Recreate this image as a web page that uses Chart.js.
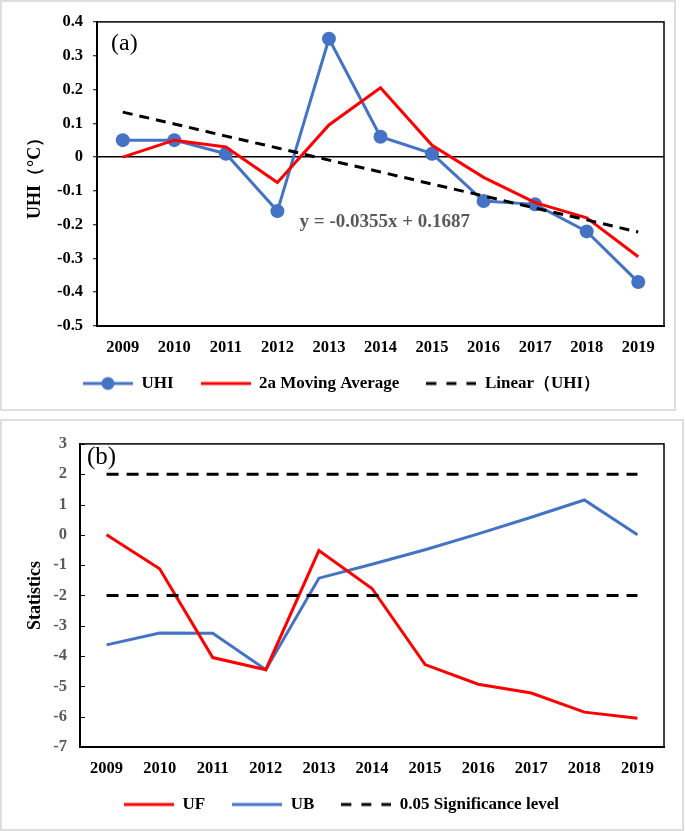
<!DOCTYPE html>
<html>
<head>
<meta charset="utf-8">
<script src="https://cdn.jsdelivr.net/npm/chart.js@4.4.1/dist/chart.umd.min.js"></script>
<style>
  html, body { margin: 0; padding: 0; background: #fff; }
  .panel { position: absolute; left: 0; box-sizing: border-box; border: 2px solid #dedede; background: #fff; }
  #panelA { top: 0; width: 676px; height: 411px; }
  #panelB { top: 419px; width: 684px; height: 412px; }
  canvas { display: block; }
</style>
</head>
<body>
<div class="panel" id="panelA"><canvas id="chartA" width="672" height="407"></canvas></div>
<div class="panel" id="panelB"><canvas id="chartB" width="680" height="408"></canvas></div>
<script>
(function () {
  'use strict';

  // ---------- Data ----------
  const years = ['2009', '2010', '2011', '2012', '2013', '2014', '2015', '2016', '2017', '2018', '2019'];

  // panel (a)
  const uhi = [0.05, 0.05, 0.01, -0.16, 0.35, 0.06, 0.01, -0.13, -0.14, -0.22, -0.37];
  const movingAvg = [0, 0.05, 0.03, -0.075, 0.095, 0.205, 0.035, -0.06, -0.135, -0.18, -0.295];
  const linearUhi = [0.133, 0.098, 0.062, 0.027, -0.009, -0.044, -0.080, -0.115, -0.151, -0.186, -0.222];
  const trendLabel = 'y = -0.0355x + 0.1687';

  // panel (b)
  const uf = [0, -1.12, -4.05, -4.45, -0.52, -1.77, -4.28, -4.93, -5.22, -5.85, -6.05];
  const ub = [-3.63, -3.24, -3.25, -4.45, -1.43, -0.97, -0.49, 0.03, 0.58, 1.15, 0];
  const sigUpper = [2, 2, 2, 2, 2, 2, 2, 2, 2, 2, 2];
  const sigLower = [-2, -2, -2, -2, -2, -2, -2, -2, -2, -2, -2];

  // ---------- Styles ----------
  const BLUE = '#4472C4';
  const RED = '#FF0000';
  const GREY = '#595959';
  const SERIF = "'Liberation Serif', 'Times New Roman', serif";
  const GAP = '\u2002\u2002'; // extra room between legend entries

  Chart.defaults.font.family = SERIF;
  Chart.defaults.color = '#000';
  Chart.defaults.animation = false;

  function lineIcon(color, dash, marker) {
    const c = document.createElement('canvas');
    c.width = 50;
    c.height = 16;
    const g = c.getContext('2d');
    g.strokeStyle = color;
    g.lineWidth = 3;
    if (dash) g.setLineDash(dash);
    g.beginPath();
    g.moveTo(0, 8);
    g.lineTo(50, 8);
    g.stroke();
    if (marker) {
      g.fillStyle = color;
      g.beginPath();
      g.arc(25, 8, 6.5, 0, Math.PI * 2);
      g.fill();
    }
    return c;
  }

  // frame round the plot area
  const boxPlugin = {
    id: 'box',
    afterDraw(chart) {
      const a = chart.chartArea;
      const ctx = chart.ctx;
      ctx.save();
      ctx.strokeStyle = '#000';
      ctx.lineWidth = 1.5;
      ctx.strokeRect(a.left, a.top, a.right - a.left, a.bottom - a.top);
      ctx.restore();
    }
  };

  // text labels drawn on top
  const notesPlugin = {
    id: 'notes',
    afterDraw(chart, args, opts) {
      const ctx = chart.ctx;
      const a = chart.chartArea;
      ctx.save();
      ctx.textBaseline = 'middle';
      ctx.textAlign = 'left';
      for (const n of opts.items || []) {
        ctx.font = n.font;
        ctx.fillStyle = n.color || '#000';
        let x, y;
        if (n.panel) {
          x = a.left + n.dx;
          y = a.top + n.dy;
        } else {
          x = chart.scales.x.getPixelForValue(n.xIndex);
          y = chart.scales.y.getPixelForValue(n.yValue);
        }
        ctx.fillText(n.text, x, y);
      }
      ctx.restore();
    }
  };

  // short tick marks pointing into the plot (panel b)
  const innerTicksPlugin = {
    id: 'innerTicks',
    afterDraw(chart, args, opts) {
      if (!opts.enabled) return;
      const ys = chart.scales.y;
      const ctx = chart.ctx;
      ctx.save();
      ctx.strokeStyle = '#000';
      ctx.lineWidth = 1;
      for (const t of ys.ticks) {
        const p = Math.round(ys.getPixelForValue(t.value)) + 0.5;
        ctx.beginPath();
        ctx.moveTo(ys.right, p);
        ctx.lineTo(ys.right + 5, p);
        ctx.stroke();
      }
      ctx.restore();
    }
  };

  const tickFont = { size: 16.5, weight: 'bold', family: SERIF };
  const legendFont = { size: 17, weight: 'bold', family: SERIF };

  // ---------- Chart (a) ----------
  const iconUhi = lineIcon(BLUE, null, true);
  const iconRed = lineIcon(RED, null, false);
  const iconDash = lineIcon('#000', [10, 10], false);
  const iconBlue = lineIcon(BLUE, null, false);

  new Chart(document.getElementById('chartA'), {
    type: 'line',
    data: {
      labels: years,
      datasets: [
        {
          label: 'UHI',
          data: uhi,
          borderColor: BLUE,
          backgroundColor: BLUE,
          borderWidth: 3,
          pointRadius: 7,
          pointBorderWidth: 0,
          pointBackgroundColor: BLUE,
          tension: 0,
          order: 2
        },
        {
          label: '2a Moving Average',
          data: movingAvg,
          borderColor: RED,
          borderWidth: 3,
          pointRadius: 0,
          tension: 0,
          order: 1
        },
        {
          label: 'Linear（UHI）',
          data: linearUhi,
          borderColor: '#000',
          borderWidth: 3,
          borderDash: [10, 7],
          pointRadius: 0,
          tension: 0,
          order: 0
        }
      ]
    },
    options: {
      responsive: false,
      layout: { padding: { left: 17, right: 10, top: 19, bottom: 7 } },
      scales: {
        x: {
          offset: true,
          grid: { display: false, drawTicks: false },
          border: { color: '#000', width: 2 },
          ticks: { font: tickFont, color: '#000', padding: 12 },
          afterFit(s) { s.height = 39; }
        },
        y: {
          min: -0.5,
          max: 0.4,
          grid: {
            color: (c) => (c.tick && Math.abs(c.tick.value) < 1e-9 ? '#000' : 'rgba(0,0,0,0)'),
            lineWidth: 1.5,
            tickColor: '#000',
            tickLength: 4,
            tickWidth: 1
          },
          border: { color: '#000', width: 2 },
          ticks: {
            stepSize: 0.1,
            font: tickFont,
            color: '#000',
            padding: 10,
            callback: (v) => (Math.abs(v) < 1e-9 ? '0' : Number(v).toFixed(1))
          },
          title: {
            display: true,
            text: 'UHI（°C）',
            font: { size: 18, weight: 'bold', family: SERIF },
            color: '#000',
            padding: { top: 6, bottom: 0 }
          },
          afterFit(s) { s.width = 78; }
        }
      },
      plugins: {
        legend: {
          position: 'bottom',
          labels: {
            usePointStyle: true,
            pointStyleWidth: 50,
            padding: 10,
            font: legendFont,
            color: '#000',
            generateLabels: () => [
              { text: 'UHI' + GAP, pointStyle: iconUhi, datasetIndex: 0, fontColor: '#000' },
              { text: '2a Moving Average' + GAP, pointStyle: iconRed, datasetIndex: 1, fontColor: '#000' },
              { text: 'Linear（UHI）', pointStyle: iconDash, datasetIndex: 2, fontColor: '#000' }
            ]
          },
          onClick: () => {}
        },
        tooltip: { enabled: false },
        notes: {
          items: [
            { panel: true, dx: 14, dy: 22, text: '(a)', font: '24px ' + SERIF },
            { xIndex: 3.43, yValue: -0.193, text: trendLabel, font: 'bold 19px ' + SERIF, color: GREY }
          ]
        },
        innerTicks: { enabled: false }
      }
    },
    plugins: [boxPlugin, notesPlugin, innerTicksPlugin]
  });

  // ---------- Chart (b) ----------
  new Chart(document.getElementById('chartB'), {
    type: 'line',
    data: {
      labels: years,
      datasets: [
        {
          label: 'UF',
          data: uf,
          borderColor: RED,
          borderWidth: 3,
          pointRadius: 0,
          tension: 0,
          order: 1
        },
        {
          label: 'UB',
          data: ub,
          borderColor: BLUE,
          borderWidth: 3,
          pointRadius: 0,
          tension: 0,
          order: 2
        },
        {
          label: '0.05 Significance level',
          data: sigUpper,
          borderColor: '#000',
          borderWidth: 3,
          borderDash: [12, 8],
          pointRadius: 0,
          order: 0
        },
        {
          label: '0.05 Significance level (lower)',
          data: sigLower,
          borderColor: '#000',
          borderWidth: 3,
          borderDash: [12, 8],
          pointRadius: 0,
          order: 0
        }
      ]
    },
    options: {
      responsive: false,
      layout: { padding: { left: 17, right: 18, top: 20, bottom: 6 } },
      scales: {
        x: {
          offset: true,
          grid: { display: false, drawTicks: false },
          border: { color: '#000', width: 2 },
          ticks: { font: tickFont, color: '#000', padding: 12 },
          afterFit(s) { s.height = 39; }
        },
        y: {
          min: -7,
          max: 3,
          grid: { display: false, drawTicks: false },
          border: { color: '#000', width: 2 },
          ticks: { stepSize: 1, font: tickFont, color: GREY, padding: 13 },
          title: {
            display: true,
            text: 'Statistics',
            font: { size: 18, weight: 'bold', family: SERIF },
            color: '#000',
            padding: { top: 6, bottom: 0 }
          },
          afterFit(s) { s.width = 61; }
        }
      },
      plugins: {
        legend: {
          position: 'bottom',
          labels: {
            usePointStyle: true,
            pointStyleWidth: 50,
            padding: 10,
            font: legendFont,
            color: '#000',
            generateLabels: () => [
              { text: 'UF' + GAP, pointStyle: iconRed, datasetIndex: 0, fontColor: '#000' },
              { text: 'UB' + GAP, pointStyle: iconBlue, datasetIndex: 1, fontColor: '#000' },
              { text: '0.05 Significance level', pointStyle: iconDash, datasetIndex: 2, fontColor: '#000' }
            ]
          },
          onClick: () => {}
        },
        tooltip: { enabled: false },
        notes: {
          items: [
            { panel: true, dx: 7, dy: 14, text: '(b)', font: '25px ' + SERIF }
          ]
        },
        innerTicks: { enabled: true }
      }
    },
    plugins: [boxPlugin, notesPlugin, innerTicksPlugin]
  });
})();
</script>
</body>
</html>
